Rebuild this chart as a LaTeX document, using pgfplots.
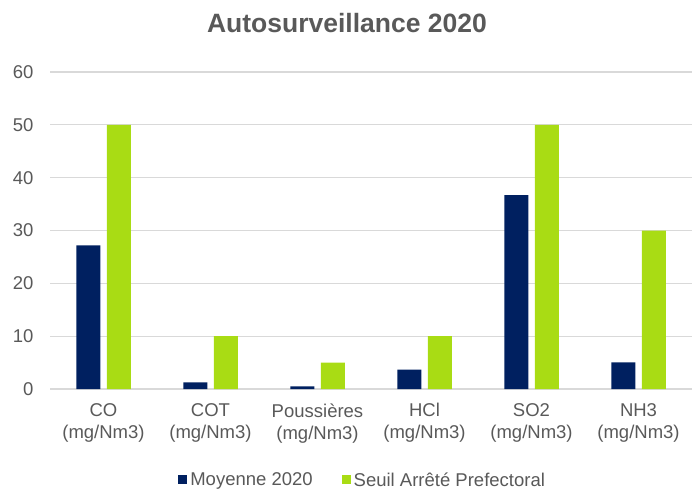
\documentclass[border=0pt]{standalone}
\usepackage{fontspec}
\setmainfont{Liberation Sans}
\usepackage{pgfplots}
\pgfplotsset{compat=1.18}
\definecolor{navy}{RGB}{0,32,96}
\definecolor{lime}{RGB}{169,220,20}
\definecolor{txt}{RGB}{89,89,89}
\definecolor{grd}{RGB}{217,217,217}
\begin{document}
\begin{tikzpicture}[x=1pt,y=1pt]
\path[use as bounding box] (0,0) rectangle (692,491);
\node[font=\fontsize{26.5}{30}\selectfont\bfseries, text=txt] at (347,468) {Autosurveillance 2020};
\begin{axis}[
  at={(50pt,102pt)}, anchor=south west,
  scale only axis, width=642pt, height=317pt,
  xmin=-0.5, xmax=5.5, ymin=0, ymax=60,
  ytick={0,10,...,60},
  xtick={0,1,2,3,4,5},
  xticklabels={{CO\\(mg/Nm3)},{COT\\(mg/Nm3)},{Poussières\\(mg/Nm3)},{HCl\\(mg/Nm3)},{SO2\\(mg/Nm3)},{NH3\\(mg/Nm3)}},
  xticklabel style={align=center, font=\fontsize{18.5}{22}\selectfont, text=txt},
  yticklabel style={font=\fontsize{18.5}{22}\selectfont, text=txt},
  /pgf/number format/assume math mode=true,
  ymajorgrids, grid style={grd, line width=1.2pt},
  major tick length=0pt,
  axis line style={draw=none},
  axis x line*=bottom,
  axis y line*=left,
  yticklabel style={xshift=-13pt},
  xticklabel style={yshift=-11pt},
  ybar=6.5pt, bar width=24pt,
  legend style={at={(0.487,-0.287)}, anchor=center, draw=none, font=\fontsize{18.5}{22}\selectfont, text=txt,
     legend columns=2, /tikz/every even column/.append style={column sep=27pt},
     /tikz/every odd column/.append style={column sep=1pt}},
  legend image code/.code={\fill[#1] (0pt,-4.5pt) rectangle (9pt,4.5pt);},
]
\draw[grd, line width=1.5pt] (axis cs:-0.5,0) -- (axis cs:5.5,0);
\addplot[fill=navy, draw=none] coordinates {(0,27.2) (1,1.27) (2,0.5) (3,3.66) (4,36.7) (5,5.05)};
\addplot[fill=lime, draw=none] coordinates {(0,50) (1,10) (2,5) (3,10) (4,50) (5,30)};
\legend{Moyenne 2020,Seuil Arrêté Prefectoral}
\end{axis}
\end{tikzpicture}
\end{document}
